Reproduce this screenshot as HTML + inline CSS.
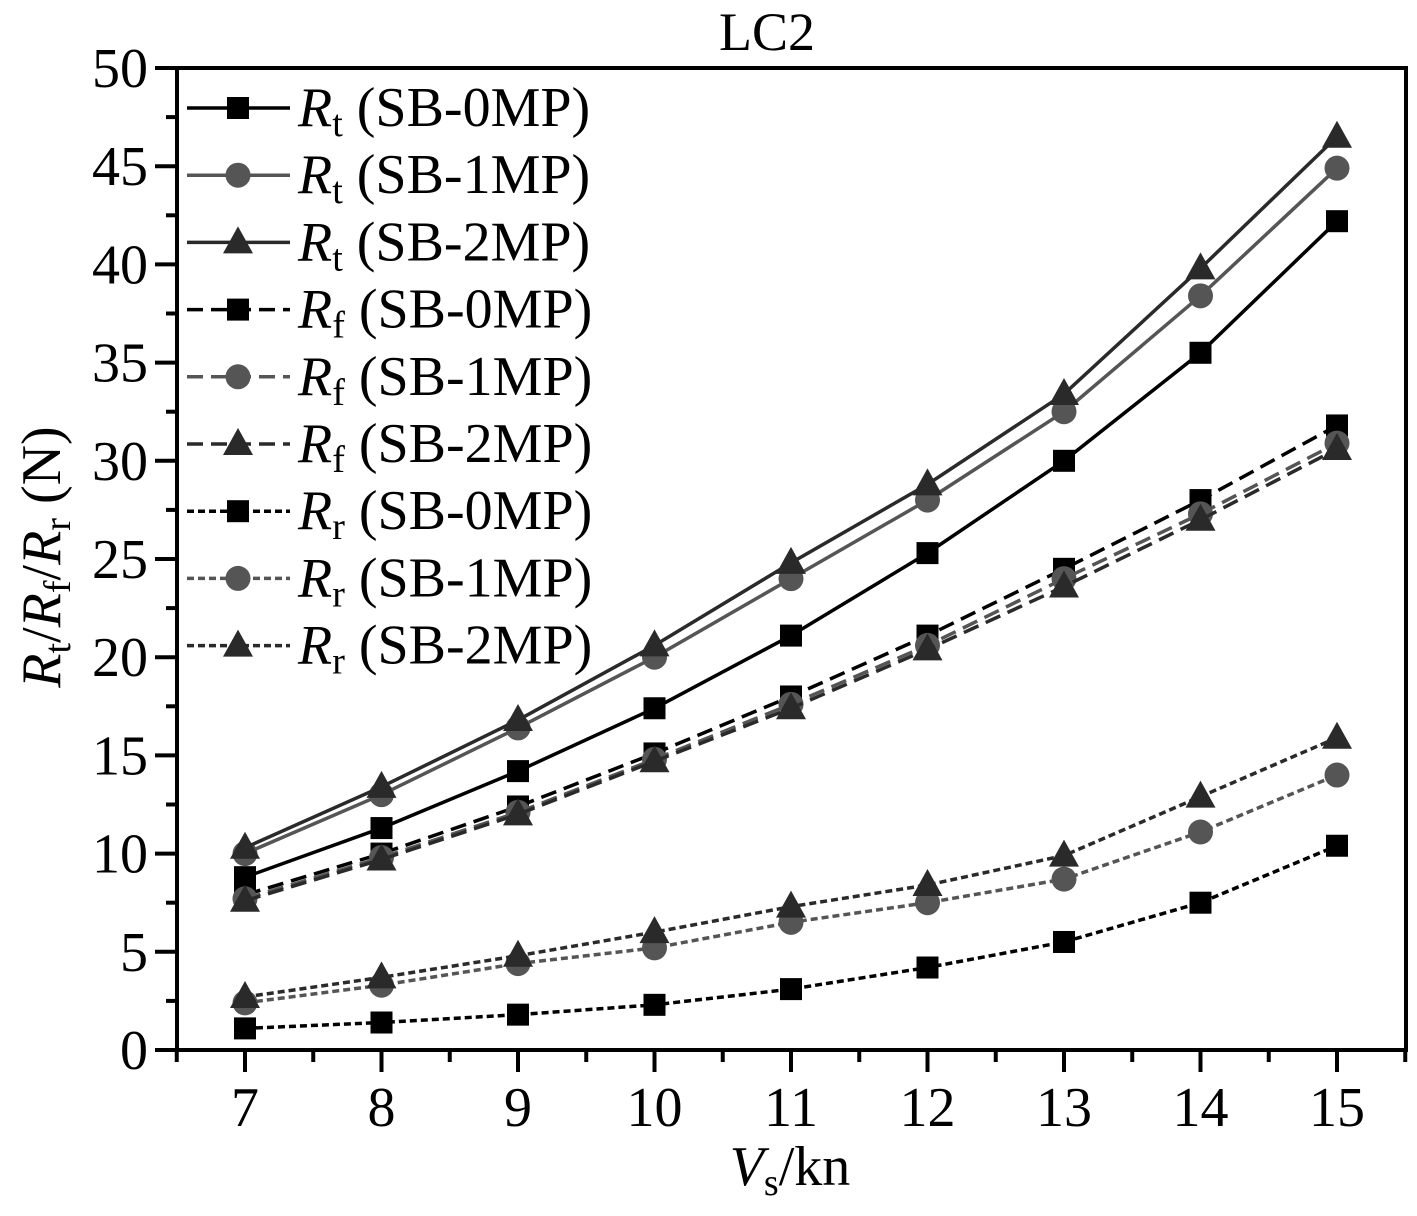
<!DOCTYPE html>
<html><head><meta charset="utf-8"><style>
html,body{margin:0;padding:0;background:#fff;}
svg{display:block;font-family:"Liberation Serif",serif;}
</style></head><body>
<svg id="s" width="1417" height="1216" viewBox="0 0 1417 1216" xmlns="http://www.w3.org/2000/svg">
<rect width="1417" height="1216" fill="#fff"/>
<text x="767" y="50" font-size="54" text-anchor="middle">LC2</text>
<text x="790" y="1185" font-size="56" text-anchor="middle"><tspan font-style="italic">V</tspan><tspan font-size="38" dy="10">s</tspan><tspan dy="-10">/kn</tspan></text>
<text transform="translate(60,557) rotate(-90)" font-size="56" text-anchor="middle"><tspan font-style="italic">R</tspan><tspan font-size="38" dy="10">t</tspan><tspan dy="-10">/</tspan><tspan font-style="italic">R</tspan><tspan font-size="38" dy="10">f</tspan><tspan dy="-10">/</tspan><tspan font-style="italic">R</tspan><tspan font-size="38" dy="10">r</tspan><tspan dy="-10"> (N)</tspan></text>
<g id="g"></g>
</svg>
<script>
var g=document.getElementById('g'),h='';
function X(v){return 245+(v-7)*136.5;}
function Y(v){return 1050-v*19.64;}
h+='<rect x="177" y="68" width="1229" height="982" fill="none" stroke="#000" stroke-width="4"/>';
for(var v=0;v<=50;v+=2.5){var y=Y(v),maj=(v%5==0);h+='<line x1="'+(maj?155:166)+'" x2="177" y1="'+y+'" y2="'+y+'" stroke="#000" stroke-width="4"/>';
 if(maj)h+='<text x="148" y="'+(y+19)+'" font-size="56" text-anchor="end">'+v+'</text>';}
for(var v=6.5;v<=15.5;v+=0.5){var x=X(v),maj=(v%1==0);h+='<line x1="'+x+'" x2="'+x+'" y1="1050" y2="'+(maj?1072:1062)+'" stroke="#000" stroke-width="4"/>';
 if(maj)h+='<text x="'+x+'" y="1126" font-size="56" text-anchor="middle">'+v+'</text>';}
var C=['#000','#555','#2a2a2a'];
var D=['', '16,8', '7,4'];
var data=[
[8.8,11.3,14.2,17.4,21.1,25.3,30.0,35.5,42.2],
[10.0,13.0,16.4,20.0,24.0,28.0,32.5,38.4,44.9],
[10.3,13.4,16.8,20.6,24.8,28.8,33.4,39.8,46.5],
[7.9,10.0,12.4,15.1,18.0,21.1,24.5,28.0,31.8],
[7.7,9.8,12.1,14.8,17.6,20.6,24.0,27.3,30.9],
[7.6,9.7,12.0,14.7,17.4,20.4,23.6,27.0,30.6],
[1.1,1.4,1.8,2.3,3.1,4.2,5.5,7.5,10.4],
[2.4,3.3,4.4,5.2,6.5,7.5,8.7,11.1,14.0],
[2.7,3.7,4.8,6.0,7.3,8.4,9.9,12.9,15.9]];
function mk(t,x,y,c){
 if(t==0)return '<rect x="'+(x-11)+'" y="'+(y-11)+'" width="22" height="22" fill="'+c+'"/>';
 if(t==1)return '<circle cx="'+x+'" cy="'+y+'" r="12.5" fill="'+c+'"/>';
 return '<polygon points="'+x+','+(y-16)+' '+(x-15)+','+(y+11)+' '+(x+15)+','+(y+11)+'" fill="'+c+'"/>';}
var labs=['t','t','t','f','f','f','r','r','r'];
for(var i=0;i<9;i++){var t=i%3,d=D[Math.floor(i/3)],c=C[t],pts=data[i].map(function(v,k){return X(7+k)+','+Y(v);}).join(' ');
 h+='<polyline points="'+pts+'" fill="none" stroke="'+c+'" stroke-width="3.5"'+(d?' stroke-dasharray="'+d+'"':'')+'/>';
 data[i].forEach(function(v,k){h+=mk(t,X(7+k),Y(v),c);});
}
for(var i=0;i<9;i++){var t=i%3,d=D[Math.floor(i/3)],c=C[t],y=108+i*67.2;
 h+='<line x1="187" x2="290" y1="'+y+'" y2="'+y+'" stroke="'+c+'" stroke-width="3.5"'+(d?' stroke-dasharray="'+d+'"':'')+'/>';
 h+=mk(t,238,y,c);
 h+='<text x="298" y="'+(y+18)+'" font-size="56"><tspan font-style="italic">R</tspan><tspan font-size="38" dy="10">'+labs[i]+'</tspan><tspan dy="-10"> (SB-'+t+'MP)</tspan></text>';}
g.innerHTML=h;
</script>
</body></html>
